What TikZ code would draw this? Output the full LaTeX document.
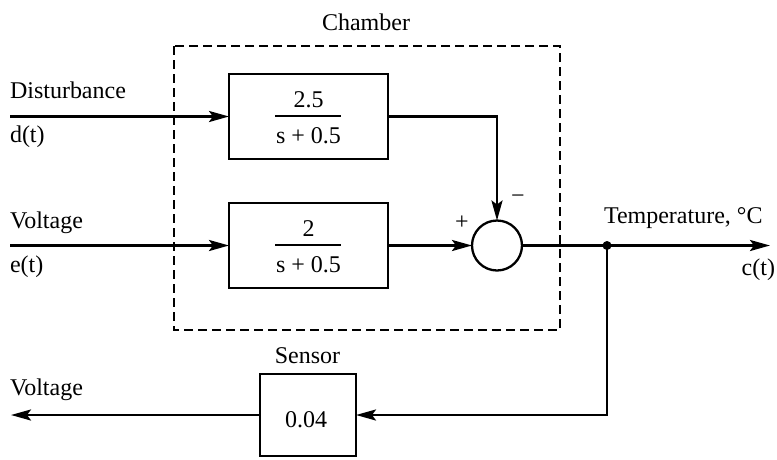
\documentclass[tikz,border=0pt]{standalone}
\usepackage{fontspec}
\setmainfont{Liberation Serif}
\usetikzlibrary{arrows.meta}
\begin{document}
\begin{tikzpicture}[x=1pt,y=-1pt,
  every node/.style={font=\fontsize{24}{28}\selectfont, inner sep=0pt, outer sep=0pt},
  wire/.style={line width=2.6pt},
  arr/.style={wire, -{Stealth[length=20pt,width=11pt,inset=4pt]}},
  blockbox/.style={draw, line width=2.6pt, minimum width=159pt, minimum height=85pt},
  sensbox/.style={draw, line width=2.6pt, minimum width=96pt, minimum height=82pt},
  sumnode/.style={draw, circle, line width=2.3pt, minimum size=50pt},
  lbl/.style={anchor=base west},
  ctr/.style={anchor=base},
  fracbar/.style={line width=1.5pt},
  chamberbox/.style={line width=1.6pt, dash pattern=on 9pt off 5pt}]
\useasboundingbox (0,0) rectangle (777,459);

% chamber
\draw[chamberbox] (174,46) rectangle (560,330);
\node[ctr] (chamber) at (366,30) {Chamber};

% blocks
\node[blockbox] (b1) at (308.5,116.5) {};
\node[blockbox] (b2) at (308.5,245.5) {};
\node[ctr] (n1) at (308.5,107) {2.5};
\draw[fracbar] (275,116) -- (341,116);
\node[ctr] (d1) at (308.5,143) {s + 0.5};
\node[ctr] (n2) at (308.5,236) {2};
\draw[fracbar] (275,245) -- (341,245);
\node[ctr] (d2) at (308.5,272) {s + 0.5};

% summing junction
\node[sumnode] (sum) at (497,245.5) {};
\node (plus) at (462,223) {+};
\node (minus) at (518,199) {−};

% sensor
\node[sensbox] (sens) at (308,415) {};
\node (sv) at (306,420) {0.04};
\node[ctr] (slabel) at (307.5,363) {Sensor};

% input/output coordinates
\coordinate (din) at (10,116.5);
\coordinate (ein) at (10,245.5);
\coordinate (out) at (770,245.5);
\coordinate (vout) at (11,415);
\node[circle, fill, minimum size=9pt] (dot) at (607,245.5) {};

% connectors
\draw[arr] (din) -- (b1.west);
\draw[arr] (ein) -- (b2.west);
\draw[arr] (b1.east) -| (sum.north);
\draw[arr] (b2.east) -- (sum.west);
\draw[arr] (sum.east) -- (out);
\draw[arr] (dot.center) |- (sens.east);
\draw[arr] (sens.west) -- (vout);

% labels
\node[lbl] (dist) at (10,98) {Disturbance};
\node[lbl] (dt) at (10,142) {d(t)};
\node[lbl] (volt1) at (10,228) {Voltage};
\node[lbl] (et) at (10,272) {e(t)};
\node[lbl] (temp) at (604,223) {Temperature, °C};
\node[anchor=base east] (ct) at (775,275) {c(t)};
\node[lbl] (volt2) at (10,395) {Voltage};
\end{tikzpicture}
\end{document}
